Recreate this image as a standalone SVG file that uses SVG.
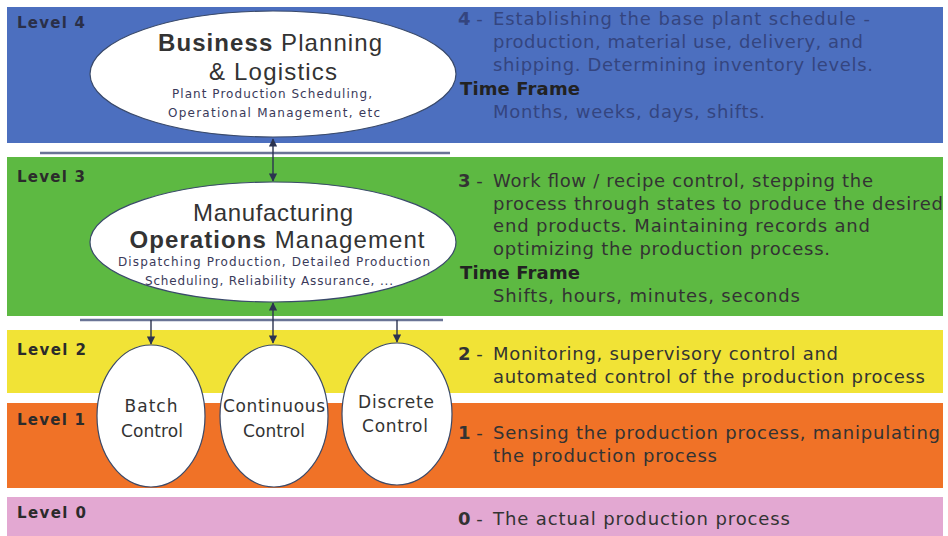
<svg xmlns="http://www.w3.org/2000/svg" width="948" height="536" viewBox="0 0 948 536">
<defs>
<style>
.lvl{font-family:"DejaVu Sans","Liberation Sans",sans-serif;font-size:15px;font-weight:bold;fill:#2b2b2b}
.desc{font-family:"DejaVu Sans","Liberation Sans",sans-serif;font-size:18px;fill:#333}
.d4{fill:#34457f}
.node{fill:#fff;stroke:#3a4a6a;stroke-width:1.2}
.big{font-family:"Liberation Sans",Arial,sans-serif;font-size:24px;fill:#333;text-anchor:middle}
.small{font-family:"DejaVu Sans","Liberation Sans",sans-serif;font-size:12px;fill:#3a3a5a;text-anchor:middle}
.ctl{font-family:"DejaVu Sans","Liberation Sans",sans-serif;font-size:17px;fill:#333;text-anchor:middle}
.conn{stroke:#2b3350;stroke-width:1.4;fill:none}
.bus{stroke:#6a7496;stroke-width:2.5;fill:none}
</style>
<marker id="ah" viewBox="0 0 10 10" refX="9" refY="5" markerWidth="6" markerHeight="6" orient="auto-start-reverse">
<path d="M0,0 L10,5 L0,10 z" fill="#2b3350"/>
</marker>
</defs>
<rect width="948" height="536" fill="#fff"/>
<g id="bands">
<rect x="7" y="7" width="936" height="136" fill="#4c6fbf"/>
<rect x="7" y="157" width="936" height="159" fill="#5db942"/>
<rect x="7" y="330" width="936" height="63" fill="#f1e336"/>
<rect x="7" y="403" width="936" height="85" fill="#f07227"/>
<rect x="7" y="497" width="936" height="39" fill="#e3a8d2"/>
</g>
<g id="level-labels">
<text class="lvl" x="17" y="28" textLength="68" lengthAdjust="spacing" style="fill:#2a2f48">Level 4</text>
<text class="lvl" x="17" y="182" textLength="68" lengthAdjust="spacing">Level 3</text>
<text class="lvl" x="17" y="355" textLength="69" lengthAdjust="spacing">Level 2</text>
<text class="lvl" x="17" y="425" textLength="68" lengthAdjust="spacing">Level 1</text>
<text class="lvl" x="17" y="518" textLength="69" lengthAdjust="spacing">Level 0</text>
</g>
<g id="descriptions">
<text class="desc d4" x="458" y="25"><tspan font-weight="bold">4</tspan> -</text>
<text class="desc d4" x="493" y="25" textLength="377" lengthAdjust="spacing">Establishing the base plant schedule -</text>
<text class="desc d4" x="493" y="48" textLength="370" lengthAdjust="spacing">production, material use, delivery, and</text>
<text class="desc d4" x="493" y="71" textLength="380" lengthAdjust="spacing">shipping. Determining inventory levels.</text>
<text class="desc" x="460" y="95" textLength="120" lengthAdjust="spacing" font-weight="bold" style="fill:#222">Time Frame</text>
<text class="desc d4" x="493" y="118" textLength="272" lengthAdjust="spacing">Months, weeks, days, shifts.</text>
<text class="desc" x="458" y="187"><tspan font-weight="bold">3</tspan> -</text>
<text class="desc" x="493" y="187" textLength="380" lengthAdjust="spacing">Work flow / recipe control, stepping the</text>
<text class="desc" x="493" y="210" textLength="450" lengthAdjust="spacing">process through states to produce the desired</text>
<text class="desc" x="493" y="232" textLength="377" lengthAdjust="spacing">end products. Maintaining records and</text>
<text class="desc" x="493" y="255" textLength="337" lengthAdjust="spacing">optimizing the production process.</text>
<text class="desc" x="460" y="279" textLength="120" lengthAdjust="spacing" font-weight="bold" style="fill:#222">Time Frame</text>
<text class="desc" x="493" y="302" textLength="307" lengthAdjust="spacing">Shifts, hours, minutes, seconds</text>
<text class="desc" x="458" y="360"><tspan font-weight="bold">2</tspan> -</text>
<text class="desc" x="493" y="360" textLength="345" lengthAdjust="spacing">Monitoring, supervisory control and</text>
<text class="desc" x="493" y="383" textLength="432" lengthAdjust="spacing">automated control of the production process</text>
<text class="desc" x="458" y="439"><tspan font-weight="bold">1</tspan> -</text>
<text class="desc" x="493" y="439" textLength="447" lengthAdjust="spacing">Sensing the production process, manipulating</text>
<text class="desc" x="493" y="462" textLength="224" lengthAdjust="spacing">the production process</text>
<text class="desc" x="458" y="525"><tspan font-weight="bold">0</tspan> -</text>
<text class="desc" x="493" y="525" textLength="297" lengthAdjust="spacing">The actual production process</text>
</g>
<g id="connectors">
<line class="bus" x1="40" y1="153" x2="450" y2="153"/>
<line class="bus" x1="80" y1="320" x2="443" y2="320"/>
<line class="conn" x1="273" y1="139" x2="273" y2="181" marker-start="url(#ah)" marker-end="url(#ah)"/>
<line class="conn" x1="273" y1="303" x2="273" y2="343" marker-start="url(#ah)" marker-end="url(#ah)"/>
<line class="conn" x1="151" y1="320" x2="151" y2="344" marker-end="url(#ah)"/>
<line class="conn" x1="397" y1="320" x2="397" y2="342" marker-end="url(#ah)"/>
</g>
<g id="business-planning">
<ellipse class="node" cx="273" cy="74" rx="183" ry="63"/>
<text class="big" x="270" y="51" textLength="224" lengthAdjust="spacing"><tspan font-weight="bold">Business</tspan> Planning</text>
<text class="big" x="273" y="80" textLength="128" lengthAdjust="spacing">&amp; Logistics</text>
<text class="small" x="272" y="98" textLength="200" lengthAdjust="spacing">Plant Production Scheduling,</text>
<text class="small" x="274" y="117" textLength="212" lengthAdjust="spacing">Operational Management, etc</text>
</g>
<g id="manufacturing-ops">
<ellipse class="node" cx="273" cy="242" rx="183" ry="60"/>
<text class="big" x="273" y="221" textLength="160" lengthAdjust="spacing">Manufacturing</text>
<text class="big" x="277" y="248" textLength="295" lengthAdjust="spacing"><tspan font-weight="bold">Operations</tspan> Management</text>
<text class="small" x="274" y="266" textLength="312" lengthAdjust="spacing">Dispatching Production, Detailed Production</text>
<text class="small" x="269" y="285" textLength="248" lengthAdjust="spacing">Scheduling, Reliability Assurance, ...</text>
</g>
<g id="batch-control">
<ellipse class="node" cx="151" cy="416" rx="54" ry="71"/>
<text class="ctl" x="151" y="412" textLength="53" lengthAdjust="spacing">Batch</text>
<text class="ctl" x="152" y="437" textLength="62" lengthAdjust="spacing">Control</text>
</g>
<g id="continuous-control">
<ellipse class="node" cx="274" cy="416" rx="54" ry="71"/>
<text class="ctl" x="274" y="412" textLength="102" lengthAdjust="spacing">Continuous</text>
<text class="ctl" x="274" y="437" textLength="62" lengthAdjust="spacing">Control</text>
</g>
<g id="discrete-control">
<ellipse class="node" cx="397" cy="414" rx="55" ry="71"/>
<text class="ctl" x="396" y="408" textLength="76" lengthAdjust="spacing">Discrete</text>
<text class="ctl" x="395" y="432" textLength="66" lengthAdjust="spacing">Control</text>
</g>
</svg>
